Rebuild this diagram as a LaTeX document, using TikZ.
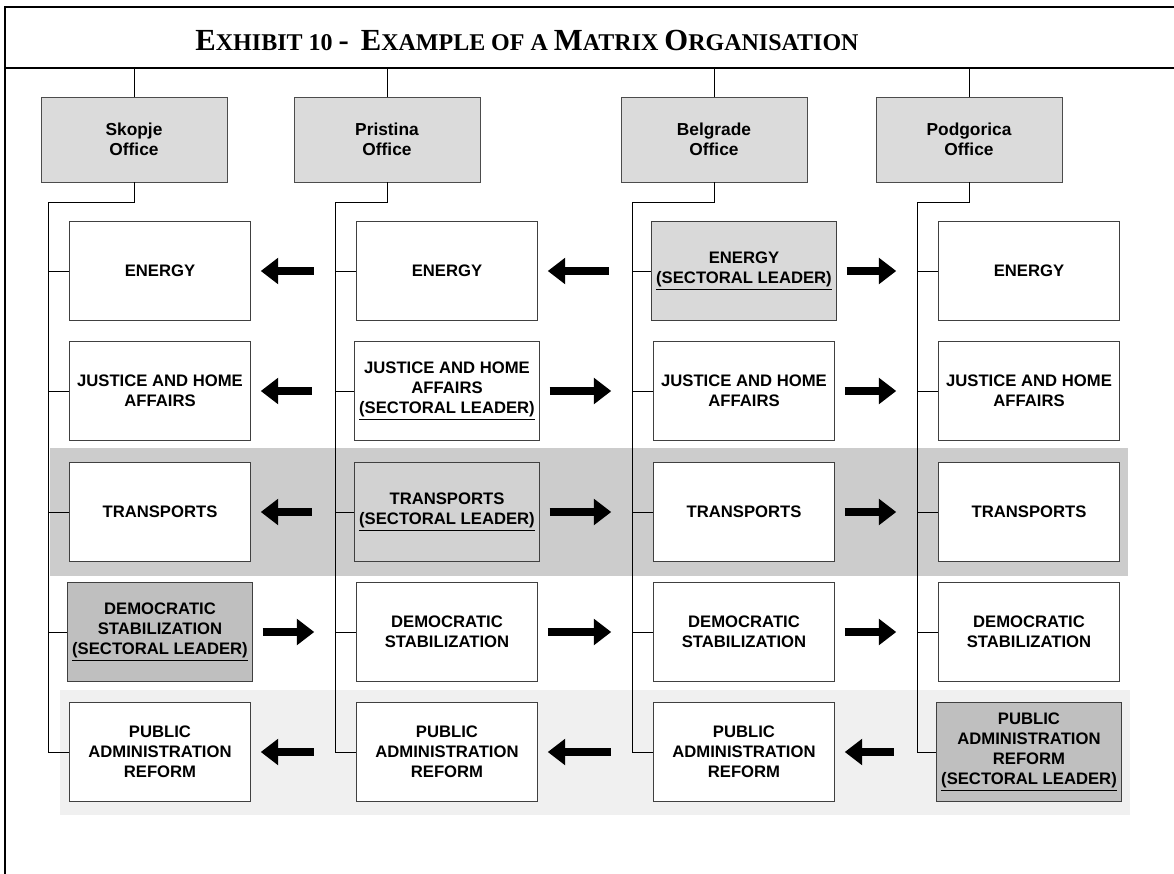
\documentclass[tikz,border=0pt]{standalone}
\usepackage{fontspec}
\setmainfont{Liberation Sans}
\newfontfamily\titlefont{Liberation Serif}
\usetikzlibrary{positioning,arrows.meta}
\definecolor{officegray}{gray}{0.86}
\definecolor{bandgray}{gray}{0.80}
\definecolor{mistgray}{gray}{0.94}
\newcommand{\capsc}[2]{{\fontsize{23}{23}\selectfont #1}{\fontsize{18}{18}\selectfont #2}}

\tikzset{
  office/.style={draw=black!70, fill=officegray, minimum width=139.5pt, minimum height=63.75pt, align=center, font=\fontsize{13}{15}\selectfont\bfseries},
  unit/.style={draw=black!75, fill=white, minimum width=135.75pt, minimum height=74.25pt, align=center, font=\fontsize{12.5}{15}\selectfont\bfseries},
  link/.style={draw=black, line width=0.6pt},
  flow/.style={line width=6.5pt, shorten <=7.5pt, shorten >=31.5pt},
  flowl/.style={flow, {Triangle[length=13pt,width=19pt]}-},
  flowr/.style={flow, -{Triangle[length=13pt,width=19pt]}},
}

\begin{document}
\begin{tikzpicture}[x=0.75pt,y=-0.75pt]
\useasboundingbox (0,0) rectangle (1174,874);
% frame and title
\draw[line width=1.2pt] (1174,7) -- (5,7) -- (5,874);
\draw[line width=1.2pt] (5,68) -- (1174,68);
\coordinate (rule) at (0,68);
\node[font=\titlefont\bfseries\fontsize{18}{18}\selectfont] (title) at (527,40) {\capsc{E}{XHIBIT} \capsc{}{10} \capsc{-}{}\ \ \capsc{E}{XAMPLE} \capsc{}{OF A} \capsc{M}{ATRIX} \capsc{O}{RGANISATION}};

% shaded bands
\fill[bandgray] (50,448) rectangle (1128,576);
\fill[mistgray] (60,690) rectangle (1130,815);

% offices
\foreach \x/\c/\city in {134/sko/Skopje,387/pri/Pristina,714/bel/Belgrade,969/pod/Podgorica}
  \node[office] (\c) at (\x,139.5) {\city\\Office};

% sector units, leader column \L with fill \lf
\foreach \y/\r/\txt/\L/\lf in {271/en/ENERGY/3/30,391/ju/JUSTICE AND HOME\\AFFAIRS/2/0,512/tr/TRANSPORTS/2/35,632/de/DEMOCRATIC\\STABILIZATION/1/50,752/pa/PUBLIC\\ADMINISTRATION\\REFORM/4/50} {
  \foreach \x/\c/\i in {160/sko/1,447/pri/2,744/bel/3,1029/pod/4} {
    \ifnum\i=\L
      \node[unit, fill=gray!\lf] (\c\r) at (\x,\y) {\txt\\\underline{(SECTORAL LEADER)}};
    \else
      \node[unit] (\c\r) at (\x,\y) {\txt};
    \fi
  }
}

% lines down from the offices
\foreach \c/\tx in {sko/48,pri/335,bel/632,pod/917} {
  \coordinate (\c-t) at (\tx,202);
  \draw[link] (\c.north) -- (\c.north |- rule);
  \draw[link] (\c.south) |- (\c-t) -- (\c-t |- \c pa.west);
  \foreach \r in {en,ju,tr,de,pa}
    \draw[link] (\c-t |- \c\r.west) -- (\c\r.west);
}

% arrows between offices
\foreach \r/\da/\db/\dc in {en/l/l/r,ju/l/r/r,tr/l/r/r,de/r/r/r,pa/l/l/l} {
  \draw[flow\da] (sko\r.east) -- (pri\r.west);
  \draw[flow\db] (pri\r.east) -- (bel\r.west);
  \draw[flow\dc] (bel\r.east) -- (pod\r.west);
}
\end{tikzpicture}
\end{document}
